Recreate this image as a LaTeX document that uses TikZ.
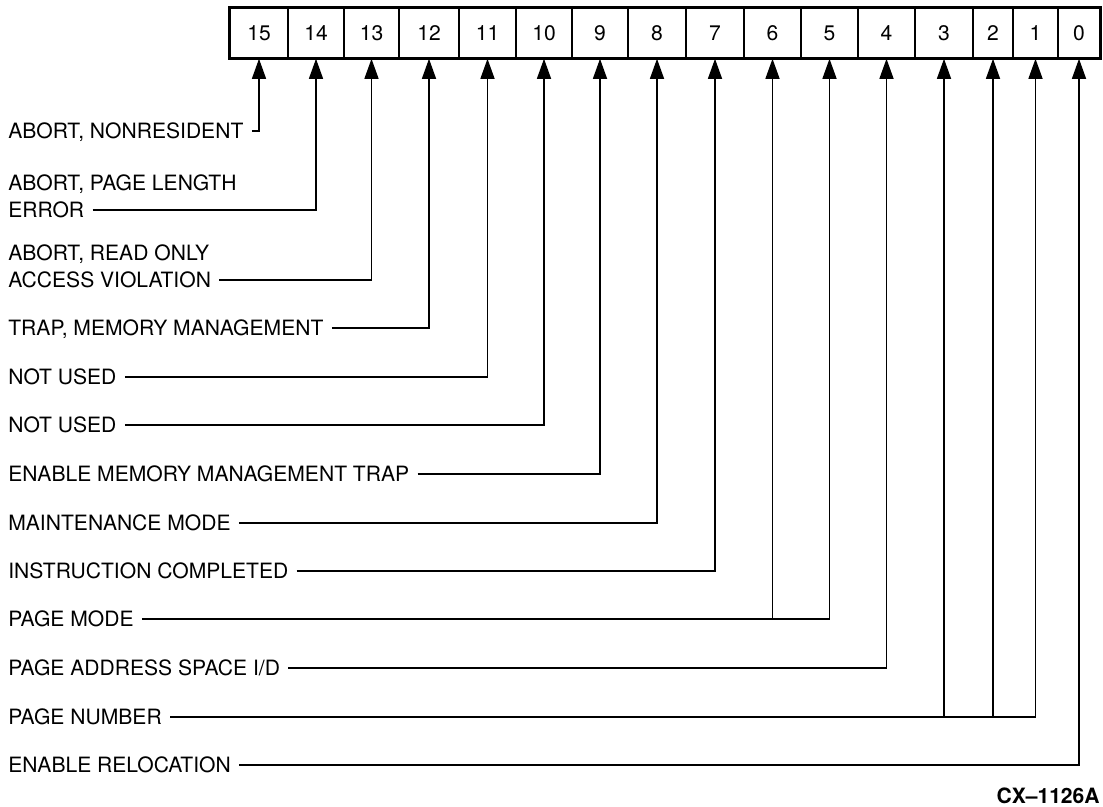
\documentclass[tikz,border=0pt]{standalone}
\usepackage{fontspec}
\setmainfont{TeX Gyre Heros}
\usetikzlibrary{arrows.meta,positioning}
\tikzset{
  cell/.style={draw, line width=0.9pt, minimum height=1cm, inner sep=0pt,
               font=\fontsize{12}{14}\selectfont},
  lbl/.style={anchor=west, inner xsep=0.16cm, inner ysep=0pt, text height=8.6pt,
              text depth=0pt, font=\fontsize{12}{14}\selectfont},
  arr/.style={-{Triangle[length=0.4cm, width=0.28cm]}, line width=0.8pt},
  tag/.style={anchor=east, inner sep=0pt, font=\bfseries\fontsize{12}{14}\selectfont},
}
\begin{document}
\begin{tikzpicture}[x=0.02cm, y=-0.02cm]
  \useasboundingbox (0,0) rectangle (1103,806);
  % register bits
  \foreach \bit/\xl/\xr [evaluate=\xr as \w using (\xr-\xl)*0.02] in
    {15/230/288, 14/288/344, 13/344/399, 12/399/459, 11/459/516, 10/516/572,
     9/572/628, 8/628/686, 7/686/744, 6/744/801, 5/801/858, 4/858/915,
     3/915/973, 2/973/1013, 1/1013/1058, 0/1058/1100}
    \node[cell, minimum width=\w cm] (b\bit) at ({(\xl+\xr)/2},33) {\bit};
  \draw[line width=1.5pt] (b15.north west) rectangle (b0.south east);

  % bit descriptions
  \node[lbl] (l15) at (0,131) {ABORT, NONRESIDENT};
  \node[lbl] (l14) at (0,210) {ERROR};
  \node[lbl, above=0.22cm of l14.north west, anchor=south west] (l14a) {ABORT, PAGE LENGTH};
  \node[lbl] (l13) at (0,280) {ACCESS VIOLATION};
  \node[lbl, above=0.22cm of l13.north west, anchor=south west] (l13a) {ABORT, READ ONLY};
  \node[lbl] (l12) at (0,328) {TRAP, MEMORY MANAGEMENT};
  \node[lbl] (l11) at (0,377) {NOT USED};
  \node[lbl] (l10) at (0,425) {NOT USED};
  \node[lbl] (l9) at (0,474) {ENABLE MEMORY MANAGEMENT TRAP};
  \node[lbl] (l8) at (0,523) {MAINTENANCE MODE};
  \node[lbl] (l7) at (0,571) {INSTRUCTION COMPLETED};
  \node[lbl] (l6) at (0,619) {PAGE MODE};
  \node[lbl] (l4) at (0,668) {PAGE ADDRESS SPACE I/D};
  \node[lbl] (l3) at (0,717) {PAGE NUMBER};
  \node[lbl] (l0) at (0,765) {ENABLE RELOCATION};
  \node[tag] (cx) at (1100,796) {CX–1126A};

  \draw[arr] (l15.east) -| (b15.south);
  \draw[arr] (l14.east) -| (b14.south);
  \draw[arr] (l13.east) -| (b13.south);
  \draw[arr] (l12.east) -| (b12.south);
  \draw[arr] (l11.east) -| (b11.south);
  \draw[arr] (l10.east) -| (b10.south);
  \draw[arr] (l9.east) -| (b9.south);
  \draw[arr] (l8.east) -| (b8.south);
  \draw[arr] (l7.east) -| (b7.south);
  \draw[arr] (l6.east) -| (b5.south);
  \draw[arr] (l6.east -| b6.south) -- (b6.south);
  \draw[arr] (l4.east) -| (b4.south);
  \draw[arr] (l3.east) -| (b1.south);
  \draw[arr] (l3.east -| b3.south) -- (b3.south);
  \draw[arr] (l3.east -| b2.south) -- (b2.south);
  \draw[arr] (l0.east) -| (b0.south);
\end{tikzpicture}
\end{document}
